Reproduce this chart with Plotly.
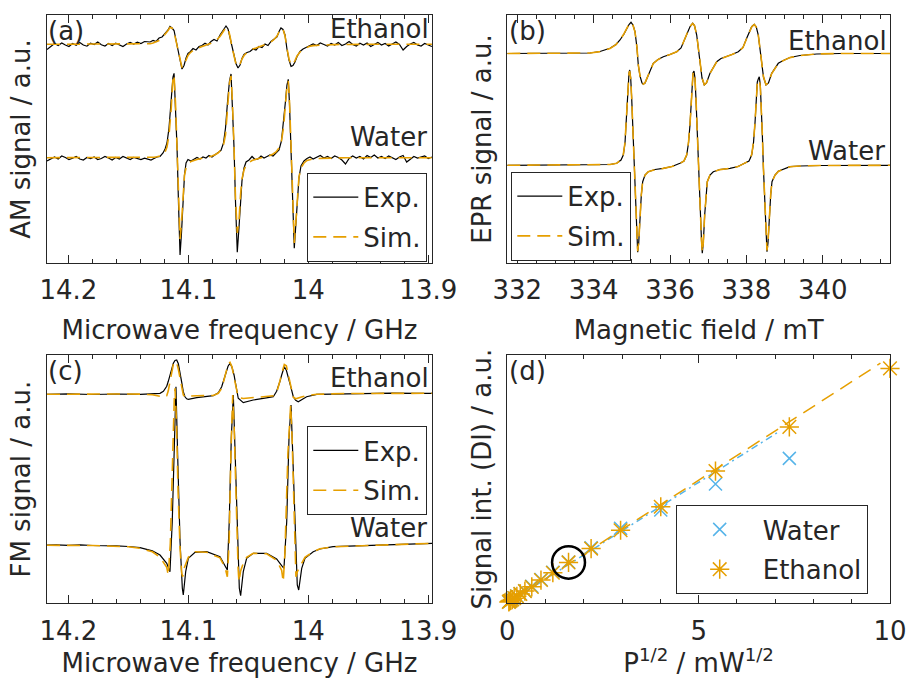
import plotly.graph_objects as go

# ---------------- data ----------------
# Panel (a): AM signal vs microwave frequency (GHz); y in arbitrary units
a_f_left = [14.2178, 14.2145, 14.2115, 14.2085, 14.2055, 14.2025, 14.1995, 14.1965, 14.1935, 14.1905,
            14.1875, 14.1845, 14.1815, 14.1785, 14.1755, 14.1725, 14.1695, 14.1665, 14.1635, 14.1605,
            14.1575, 14.1545, 14.1515, 14.1485, 14.1455, 14.1425, 14.1395, 14.1365]
a_f_right = [13.996, 13.993, 13.990, 13.987, 13.984, 13.981, 13.978, 13.975, 13.972, 13.969,
             13.966, 13.963, 13.960, 13.957, 13.954, 13.951, 13.948, 13.945, 13.942, 13.939,
             13.936, 13.933, 13.930, 13.927, 13.924, 13.921, 13.918, 13.915, 13.912, 13.909,
             13.906, 13.903, 13.900, 13.897]
a_f_eth_mid = [14.1319, 14.1294, 14.1269, 14.1244, 14.1219, 14.1194, 14.1169, 14.1153, 14.1136, 14.1119,
               14.1103, 14.1086, 14.1069, 14.1053, 14.1036, 14.1019, 14.1003, 14.0986, 14.0961, 14.0936,
               14.0911, 14.0886, 14.0861, 14.0836, 14.0811, 14.0786, 14.0761, 14.0736, 14.0711, 14.0686,
               14.0669, 14.0653, 14.0636, 14.0619, 14.0603, 14.0586, 14.0569, 14.0553, 14.0536, 14.0511,
               14.0486, 14.0461, 14.0436, 14.0411, 14.0386, 14.0361, 14.0336, 14.0311, 14.0286, 14.0261,
               14.0244, 14.0228, 14.0211, 14.0194, 14.0178, 14.0161, 14.0144, 14.0128, 14.0111, 14.0094,
               14.0069, 14.0044, 14.0019, 13.9994]
a_exp_eth_left = [213.5, 217.0, 219.5, 217.5, 220.0, 218.0, 216.5, 219.5, 217.8, 220.5, 218.0, 216.8, 219.8, 218.5,
                  221.0, 218.2, 217.0, 219.5, 217.5, 219.8, 218.0, 216.5, 219.0, 220.5, 219.0, 220.8, 219.5, 221.5]
a_exp_eth_mid = [221.0, 222.5, 221.5, 225.0, 226.0, 229.5, 233.0, 236.5, 235.0, 232.5,
                 224.0, 212.0, 203.0, 194.0, 197.5, 205.0, 209.5, 211.0, 214.5, 213.0,
                 216.5, 217.5, 219.8, 218.0, 221.5, 223.5, 222.0, 228.0, 232.0, 237.0,
                 234.0, 226.0, 216.0, 207.0, 199.5, 195.0, 198.0, 204.5, 208.5, 210.5,
                 211.5, 214.0, 213.0, 216.5, 215.5, 219.0, 217.5, 221.5, 224.0, 226.0,
                 231.5, 235.0, 233.5, 228.0, 214.0, 203.0, 196.5, 197.5, 201.0, 206.5,
                 211.5, 214.0, 215.5, 217.0]
a_exp_eth_right = [219.0, 217.5, 220.0, 218.5, 217.0, 219.5, 218.0, 220.5, 217.5, 219.0, 221.5, 218.5, 217.0, 219.8,
                   218.0, 220.0, 216.5, 218.5, 220.5, 218.0, 219.5, 217.0, 219.0, 221.0, 218.5, 213.0, 216.5, 219.0,
                   220.5, 218.0, 217.0, 219.5, 218.0, 216.5]
a_sim_eth_left = [218.7, 218.7, 218.7, 218.7, 218.7, 218.7, 218.7, 218.7, 218.7, 218.7, 218.7, 218.7, 218.7, 218.7,
                  218.7, 218.7, 218.7, 218.7, 218.7, 218.7, 218.7, 218.7, 218.8, 218.9, 218.9, 219.0, 219.1, 219.2]
a_sim_eth_mid = [219.3, 220.0, 221.0, 222.5, 225.0, 228.5, 232.5, 235.5, 235.0, 231.0,
                 222.0, 211.0, 201.5, 195.5, 198.0, 203.5, 207.5, 210.0, 212.5, 214.0,
                 215.5, 216.5, 217.5, 218.5, 219.8, 221.5, 223.5, 226.5, 231.0, 235.5,
                 234.5, 227.0, 216.0, 206.0, 199.0, 196.5, 199.0, 204.0, 207.5, 210.5,
                 212.5, 214.0, 215.0, 216.0, 217.0, 218.0, 219.5, 221.0, 223.5, 227.0,
                 231.0, 234.5, 234.0, 227.0, 215.0, 204.0, 198.5, 198.5, 202.5, 207.0,
                 211.0, 213.5, 215.0, 216.5]
a_sim_eth_right = [217.4, 217.7, 217.9, 218.1, 218.2, 218.3, 218.4, 218.5, 218.5, 218.6, 218.6, 218.6, 218.7, 218.7,
                   218.7, 218.7, 218.7, 218.7, 218.7, 218.7, 218.7, 218.7, 218.7, 218.7, 218.7, 218.7, 218.7, 218.7,
                   218.7, 218.7, 218.7, 218.7, 218.7, 218.7]

a_f_wat_mid = [14.1311, 14.1286, 14.1261, 14.1236, 14.1211, 14.1194, 14.1178, 14.1161, 14.1144, 14.1128,
               14.1119, 14.1107, 14.1094, 14.1082, 14.1069, 14.1057, 14.1044, 14.1032, 14.1019, 14.1003,
               14.0978, 14.0953, 14.0928, 14.0903, 14.0878, 14.0853, 14.0828, 14.0803, 14.0778, 14.0753,
               14.0728, 14.0707, 14.0690, 14.0674, 14.0657, 14.0644, 14.0632, 14.0619, 14.0607, 14.0592,
               14.0578, 14.0565, 14.0553, 14.0536, 14.0519, 14.0494, 14.0469, 14.0444, 14.0419, 14.0394,
               14.0369, 14.0344, 14.0319, 14.0294, 14.0269, 14.0244, 14.0224, 14.0207, 14.0190, 14.0178,
               14.0167, 14.0157, 14.0144, 14.0132, 14.0117, 14.0103, 14.0090, 14.0078, 14.0061, 14.0036,
               14.0011, 13.9986]
a_exp_wat_left = [102.0, 104.5, 106.0, 104.0, 107.0, 105.5, 103.5, 104.8, 106.5, 104.0, 103.0, 105.5, 104.5, 106.0,
                  103.5, 104.5, 106.5, 105.0, 103.0, 105.5, 104.0, 106.5, 105.0, 103.5, 105.5, 104.5, 103.5, 104.8]
a_exp_wat_mid = [103.0, 104.5, 106.0, 106.5, 110.0, 114.0, 120.0, 135.0, 160.0, 186.0,
                 189.7, 160.0, 115.0, 60.0, 8.0, 30.0, 65.0, 88.0, 100.0, 103.5,
                 102.0, 104.0, 105.5, 104.0, 106.0, 105.0, 107.5, 106.0, 108.0, 110.0,
                 112.5, 120.0, 135.0, 160.0, 182.0, 189.0, 160.0, 115.0, 62.0, 10.7,
                 35.0, 62.0, 82.0, 95.0, 101.0, 103.0, 106.5, 103.5, 104.0, 107.0,
                 105.0, 106.5, 108.0, 107.0, 110.0, 113.0, 122.0, 140.0, 162.0, 178.0,
                 183.7, 160.0, 115.0, 62.0, 14.7, 40.0, 68.0, 85.0, 97.0, 102.0,
                 104.5, 106.0]
a_exp_wat_right = [104.0, 106.0, 107.5, 105.0, 106.5, 104.5, 107.0, 105.5, 103.0, 99.0, 104.5, 107.0, 105.0, 106.5,
                   104.0, 107.5, 105.5, 108.0, 105.0, 106.5, 104.5, 107.0, 105.5, 103.5, 106.0, 107.5, 101.0, 104.0,
                   106.5, 105.0, 106.0, 107.0, 104.5, 106.0]
a_sim_wat_left = [105.3, 105.3, 105.3, 105.3, 105.3, 105.3, 105.3, 105.3, 105.3, 105.3, 105.3, 105.3, 105.3, 105.3,
                  105.3, 105.3, 105.3, 105.3, 105.3, 105.3, 105.3, 105.3, 105.3, 105.3, 105.3, 105.4, 105.4, 105.5]
a_sim_wat_mid = [105.5, 105.8, 106.3, 107.0, 109.0, 111.0, 116.0, 128.0, 152.0, 185.0,
                 188.0, 160.0, 115.0, 62.0, 24.0, 40.0, 70.0, 88.0, 95.0, 99.0,
                 101.5, 102.8, 103.5, 104.2, 104.8, 105.3, 106.0, 107.0, 108.3, 110.0,
                 113.0, 118.0, 128.0, 150.0, 180.0, 187.0, 160.0, 115.0, 65.0, 30.0,
                 42.0, 68.0, 84.0, 93.0, 97.5, 100.5, 102.5, 103.5, 104.3, 105.0,
                 105.8, 106.5, 107.5, 109.0, 111.0, 115.0, 122.0, 135.0, 158.0, 176.0,
                 182.0, 162.0, 118.0, 65.0, 20.0, 42.0, 70.0, 86.0, 95.0, 100.0,
                 102.5, 103.5]
a_sim_wat_right = [104.0, 104.4, 104.6, 104.8, 105.0, 105.1, 105.2, 105.2, 105.3, 105.3, 105.3, 105.3, 105.3, 105.3,
                   105.3, 105.3, 105.3, 105.3, 105.3, 105.3, 105.3, 105.3, 105.3, 105.3, 105.3, 105.3, 105.3, 105.3,
                   105.3, 105.3, 105.3, 105.3, 105.3, 105.3]

# Panel (b): EPR signal vs magnetic field (mT)
b_B_eth = [331.738, 332.856, 333.642, 333.904, 334.166, 334.428, 334.585, 334.690, 334.795, 334.873,
           334.926, 334.978, 335.030, 335.083, 335.135, 335.169, 335.214, 335.266, 335.300, 335.345,
           335.431, 335.562, 335.685, 335.824, 335.999, 336.175, 336.288, 336.392, 336.471, 336.523,
           336.594, 336.641, 336.699, 336.746, 336.785, 336.838, 336.898, 336.955, 337.047, 337.223,
           337.335, 337.485, 337.623, 337.788, 337.911, 338.008, 338.082, 338.139, 338.207, 338.260,
           338.312, 338.357, 338.401, 338.448, 338.514, 338.579, 338.663, 338.836, 338.967, 339.142,
           339.404, 339.842, 340.452, 341.762]
b_exp_eth = [209.5, 209.5, 209.6, 210.0, 211.5, 214.7, 218.5, 223.0, 229.0, 235.0,
             238.5, 240.7, 238.0, 231.3, 215.0, 198.0, 187.0, 180.0, 178.7, 180.0,
             188.0, 199.7, 203.5, 206.3, 208.5, 211.3, 215.0, 224.7, 231.0, 236.3,
             239.7, 237.5, 228.0, 213.0, 198.0, 185.0, 178.0, 180.0, 189.7, 201.3,
             204.5, 206.3, 208.5, 211.3, 215.5, 224.7, 231.5, 236.3, 238.7, 236.0,
             228.0, 215.0, 198.0, 186.0, 178.0, 180.0, 189.7, 199.7, 202.5, 205.5,
             207.5, 209.0, 209.5, 209.5]
b_sim_eth = [209.5, 209.5, 209.6, 210.0, 211.4, 214.6, 218.4, 223.2, 229.3, 235.2,
             238.7, 240.5, 237.8, 231.0, 215.3, 198.4, 187.2, 180.2, 178.9, 180.3,
             188.2, 199.5, 203.4, 206.2, 208.4, 211.2, 215.1, 224.5, 231.2, 236.5,
             239.5, 237.3, 228.2, 213.3, 198.2, 185.3, 178.2, 180.2, 189.5, 201.1,
             204.4, 206.2, 208.4, 211.2, 215.4, 224.5, 231.3, 236.1, 238.5, 235.8,
             228.2, 215.2, 198.3, 186.2, 178.3, 180.2, 189.5, 199.5, 202.4, 205.4,
             207.4, 209.0, 209.5, 209.5]
b_B_wat = [331.738, 333.904, 334.428, 334.603, 334.716, 334.776, 334.821, 334.847, 334.873, 334.899,
           334.926, 334.944, 334.970, 334.996, 335.030, 335.057, 335.083, 335.109, 335.135, 335.153,
           335.180, 335.214, 335.248, 335.284, 335.345, 335.431, 335.607, 335.824, 336.052, 336.261,
           336.366, 336.437, 336.484, 336.523, 336.550, 336.576, 336.602, 336.628, 336.654, 336.680,
           336.712, 336.741, 336.772, 336.804, 336.825, 336.845, 336.872, 336.908, 336.942, 336.976,
           337.047, 337.134, 337.309, 337.571, 337.781, 337.964, 338.069, 338.139, 338.186, 338.226,
           338.260, 338.286, 338.312, 338.338, 338.365, 338.391, 338.417, 338.443, 338.469, 338.496,
           338.519, 338.540, 338.566, 338.600, 338.637, 338.671, 338.750, 338.836, 339.142, 339.404,
           339.928, 341.762]
b_exp_wat = [97.7, 97.8, 98.5, 99.7, 103.0, 108.0, 120.0, 138.0, 160.0, 181.3,
             190.0, 193.0, 185.0, 164.7, 130.0, 98.0, 70.0, 41.3, 20.0, 10.7,
             20.0, 48.0, 68.0, 81.3, 88.0, 91.3, 93.5, 94.7, 96.5, 99.7,
             102.0, 108.0, 120.0, 138.0, 160.0, 181.0, 190.0, 192.0, 185.0, 164.0,
             130.0, 98.0, 70.0, 41.0, 22.0, 9.7, 20.0, 48.0, 68.0, 81.3,
             88.0, 91.3, 93.5, 94.7, 96.5, 99.7, 102.0, 108.0, 120.0, 140.0,
             165.0, 181.0, 184.0, 186.3, 178.0, 160.0, 130.0, 98.0, 70.0, 41.3,
             22.0, 11.3, 20.0, 48.0, 68.0, 81.3, 88.0, 91.7, 96.3, 97.0,
             97.5, 97.7]
b_sim_wat = [97.7, 97.8, 98.5, 99.7, 103.2, 108.3, 120.5, 138.5, 160.5, 181.0,
             189.5, 192.0, 184.5, 164.5, 130.2, 98.2, 70.3, 41.8, 20.8, 11.8,
             20.8, 48.3, 68.2, 81.2, 87.9, 91.2, 93.4, 94.6, 96.4, 99.6,
             102.1, 108.2, 120.3, 138.3, 160.2, 180.5, 189.2, 191.2, 184.6, 164.2,
             130.2, 98.3, 70.3, 41.5, 22.5, 10.8, 20.6, 48.2, 68.2, 81.2,
             87.9, 91.2, 93.4, 94.6, 96.4, 99.6, 102.1, 108.4, 120.5, 140.2,
             164.5, 179.5, 182.5, 183.0, 176.0, 159.0, 130.0, 98.3, 70.3, 41.8,
             22.8, 12.5, 20.8, 48.2, 68.1, 81.2, 87.9, 91.6, 96.2, 97.0,
             97.5, 97.7]

# Panel (c): FM signal vs microwave frequency (GHz)
c_f_eth = [14.2178, 14.2000, 14.1800, 14.1600, 14.1400, 14.1300, 14.1236, 14.1208, 14.1180, 14.1167,
           14.1153, 14.1139, 14.1125, 14.1111, 14.1097, 14.1083, 14.1069, 14.1055, 14.1042, 14.1028,
           14.1014, 14.1000, 14.0930, 14.0792, 14.0750, 14.0722, 14.0700, 14.0686, 14.0669, 14.0653,
           14.0636, 14.0619, 14.0600, 14.0584, 14.0542, 14.0459, 14.0350, 14.0292, 14.0264, 14.0250,
           14.0236, 14.0222, 14.0211, 14.0200, 14.0183, 14.0167, 14.0147, 14.0125, 14.0105, 14.0084,
           14.0050, 14.0014, 13.9930, 13.9700, 13.9500, 13.9300, 13.9100, 13.8969]
c_exp_eth = [209.0, 209.5, 208.8, 209.3, 209.0, 209.6, 210.0, 212.0, 217.0, 222.0,
             228.3, 235.0, 240.0, 242.8, 243.3, 239.5, 231.6, 221.0, 211.6, 206.5,
             204.5, 204.0, 205.6, 207.6, 210.5, 216.6, 225.0, 231.6, 237.0, 240.0,
             236.0, 228.3, 216.0, 205.0, 200.6, 203.3, 205.5, 206.6, 212.0, 216.6,
             222.0, 228.3, 233.0, 236.6, 233.0, 226.6, 217.0, 206.6, 203.0, 201.6,
             204.0, 206.6, 209.0, 209.5, 209.8, 210.2, 209.9, 210.0]
c_sim_eth = [209.0, 209.3, 209.2, 209.3, 209.2, 208.5, 207.0, 205.8, 207.5, 212.5,
             221.5, 231.5, 239.0, 242.0, 240.5, 234.0, 224.5, 214.5, 208.5, 206.5,
             206.8, 207.2, 207.6, 207.8, 210.0, 215.0, 224.5, 232.5, 239.0, 241.0,
             236.5, 226.0, 213.0, 206.0, 204.8, 205.5, 206.5, 207.5, 210.5, 215.5,
             222.5, 229.5, 235.0, 238.8, 237.5, 229.0, 216.0, 206.0, 204.5, 205.0,
             206.5, 207.8, 209.0, 209.8, 210.0, 210.0, 210.0, 210.0]
c_f_wat_exp = [14.2178, 14.2100, 14.2000, 14.1900, 14.1800, 14.1700, 14.1600, 14.1500, 14.1403, 14.1300,
               14.1236, 14.1180, 14.1153, 14.1134, 14.1117, 14.1103, 14.1089, 14.1069, 14.1050, 14.1042,
               14.1022, 14.1000, 14.0944, 14.0847, 14.0736, 14.0694, 14.0675, 14.0659, 14.0642, 14.0625,
               14.0609, 14.0592, 14.0575, 14.0564, 14.0542, 14.0514, 14.0459, 14.0347, 14.0264, 14.0222,
               14.0203, 14.0180, 14.0161, 14.0144, 14.0125, 14.0109, 14.0092, 14.0080, 14.0055, 14.0028,
               13.9959, 13.9903, 13.9794, 13.9600, 13.9400, 13.9200, 13.8969]
c_exp_wat = [58.3, 58.5, 58.0, 58.4, 57.8, 57.9, 57.5, 56.8, 55.6, 52.5,
             48.3, 40.0, 31.6, 81.6, 165.0, 216.6, 148.3, 61.6, 15.0, 8.3,
             31.6, 45.0, 51.0, 51.6, 46.6, 38.3, 33.3, 81.6, 165.0, 208.3,
             148.3, 61.6, 15.0, 7.6, 31.6, 45.0, 50.0, 50.0, 44.3, 37.6,
             35.0, 81.6, 165.0, 198.3, 131.6, 61.6, 18.3, 13.3, 35.0, 45.0,
             51.6, 54.3, 56.6, 57.5, 58.5, 59.3, 60.0]
c_f_wat_sim = [14.2178, 14.1800, 14.1500, 14.1403, 14.1300, 14.1236, 14.1180, 14.1167, 14.1150, 14.1132,
               14.1117, 14.1111, 14.1100, 14.1085, 14.1069, 14.1055, 14.1047, 14.1035, 14.1022, 14.1000,
               14.0944, 14.0847, 14.0736, 14.0694, 14.0675, 14.0660, 14.0645, 14.0630, 14.0618, 14.0600,
               14.0585, 14.0578, 14.0565, 14.0542, 14.0514, 14.0459, 14.0347, 14.0264, 14.0222, 14.0209,
               14.0195, 14.0170, 14.0147, 14.0135, 14.0118, 14.0103, 14.0090, 14.0055, 14.0028, 13.9959,
               13.9903, 13.9794, 13.9400, 13.8969]
c_sim_wat = [58.0, 57.8, 56.5, 55.0, 51.5, 46.0, 36.0, 28.0, 60.0, 150.0,
             205.0, 214.9, 185.0, 110.0, 55.0, 30.0, 26.6, 35.0, 40.0, 46.0,
             51.5, 51.0, 45.5, 36.0, 26.6, 60.0, 150.0, 208.3, 175.0, 90.0,
             35.0, 21.6, 32.0, 40.0, 46.0, 50.0, 49.5, 43.0, 33.0, 21.6,
             50.0, 150.0, 198.3, 165.0, 85.0, 26.6, 32.0, 40.0, 46.0, 51.5,
             54.5, 56.5, 58.5, 60.0]

# Panel (d): double-integrated signal vs sqrt(P)
d_sqrtP_eth = [10.0, 7.37, 5.44, 4.01, 2.96, 2.19, 1.60, 1.19, 0.88, 0.64, 0.46, 0.34, 0.25, 0.18, 0.13, 0.09, 0.06, 0.04]
d_DI_eth = [1.000, 0.751, 0.563, 0.411, 0.311, 0.233, 0.174, 0.130, 0.099, 0.070, 0.052, 0.040, 0.030, 0.022, 0.016, 0.012, 0.009, 0.006]
d_sqrtP_wat = [7.37, 5.44, 4.01, 2.96, 2.19, 1.60, 1.19, 0.88, 0.64, 0.46, 0.34, 0.25, 0.18, 0.13, 0.09, 0.06, 0.04]
d_DI_wat = [0.617, 0.508, 0.397, 0.319, 0.236, 0.176, 0.132, 0.101, 0.072, 0.053, 0.041, 0.031, 0.023, 0.017, 0.012, 0.009, 0.006]
d_fit_eth_x = [0.0, 9.75]
d_fit_eth_y = [0.0, 1.022]
d_fit_wat_x = [0.0, 7.1]
d_fit_wat_y = [0.0, 0.731]
highlight_index = 6          # point circled in panel (d)
highlight_radius = (0.43, 0.069)

# ---------------- style ----------------
W, H = 906, 678
TXT = '#262626'
ORANGE = '#E69F00'
BLUE = '#56B4E9'
FONT = 'DejaVu Sans'
FS = 26
SIM_DASH = '13px,7px'

def px_x(p):
    return p / W

def px_y(p):
    return (H - p) / H

dom_left = [px_x(47), px_x(432)]
dom_right = [px_x(507.3), px_x(890)]
dom_top = [px_y(263), px_y(15)]
dom_bot = [px_y(603.3), px_y(355)]

fig = go.Figure()

def exp_line():
    return dict(color='black', width=1.2)

def sim_line():
    return dict(color=ORANGE, width=1.6, dash=SIM_DASH)

# (a)
fig.add_trace(go.Scatter(x=a_f_left + a_f_eth_mid + a_f_right, y=a_exp_eth_left + a_exp_eth_mid + a_exp_eth_right,
                         mode='lines', line=exp_line(), showlegend=False, xaxis='x', yaxis='y'))
fig.add_trace(go.Scatter(x=a_f_left + a_f_wat_mid + a_f_right, y=a_exp_wat_left + a_exp_wat_mid + a_exp_wat_right,
                         mode='lines', line=exp_line(), name='Exp.', legend='legend', legendgroup='ae', xaxis='x', yaxis='y'))
fig.add_trace(go.Scatter(x=a_f_left + a_f_eth_mid + a_f_right, y=a_sim_eth_left + a_sim_eth_mid + a_sim_eth_right,
                         mode='lines', line=sim_line(), showlegend=False, xaxis='x', yaxis='y'))
fig.add_trace(go.Scatter(x=a_f_left + a_f_wat_mid + a_f_right, y=a_sim_wat_left + a_sim_wat_mid + a_sim_wat_right,
                         mode='lines', line=sim_line(), name='Sim.', legend='legend', legendgroup='as', xaxis='x', yaxis='y'))
# (b)
fig.add_trace(go.Scatter(x=b_B_eth, y=b_exp_eth, mode='lines', line=exp_line(), showlegend=False, xaxis='x2', yaxis='y2'))
fig.add_trace(go.Scatter(x=b_B_wat, y=b_exp_wat, mode='lines', line=exp_line(), name='Exp.', legend='legend2', legendgroup='be', xaxis='x2', yaxis='y2'))
fig.add_trace(go.Scatter(x=b_B_eth, y=b_sim_eth, mode='lines', line=sim_line(), showlegend=False, xaxis='x2', yaxis='y2'))
fig.add_trace(go.Scatter(x=b_B_wat, y=b_sim_wat, mode='lines', line=sim_line(), name='Sim.', legend='legend2', legendgroup='bs', xaxis='x2', yaxis='y2'))
# (c)
fig.add_trace(go.Scatter(x=c_f_eth, y=c_exp_eth, mode='lines', line=exp_line(), showlegend=False, xaxis='x3', yaxis='y3'))
fig.add_trace(go.Scatter(x=c_f_wat_exp, y=c_exp_wat, mode='lines', line=exp_line(), name='Exp.', legend='legend3', legendgroup='ce', xaxis='x3', yaxis='y3'))
fig.add_trace(go.Scatter(x=c_f_eth, y=c_sim_eth, mode='lines', line=sim_line(), showlegend=False, xaxis='x3', yaxis='y3'))
fig.add_trace(go.Scatter(x=c_f_wat_sim, y=c_sim_wat, mode='lines', line=sim_line(), name='Sim.', legend='legend3', legendgroup='cs', xaxis='x3', yaxis='y3'))
# (d)
fig.add_trace(go.Scatter(x=d_fit_wat_x, y=d_fit_wat_y, mode='lines', line=dict(color=BLUE, width=1.5, dash='7px,4px,2px,4px'),
                         showlegend=False, xaxis='x4', yaxis='y4'))
fig.add_trace(go.Scatter(x=d_fit_eth_x, y=d_fit_eth_y, mode='lines', line=dict(color=ORANGE, width=1.5, dash='14px,8px'),
                         showlegend=False, xaxis='x4', yaxis='y4'))
fig.add_trace(go.Scatter(x=d_sqrtP_wat, y=d_DI_wat, mode='markers', name='Water', legend='legend4', legendgroup='dw',
                         marker=dict(symbol='x-thin', size=13, color=BLUE, line=dict(width=1.5, color=BLUE)),
                         cliponaxis=False, xaxis='x4', yaxis='y4'))
fig.add_trace(go.Scatter(x=d_sqrtP_eth, y=d_DI_eth, mode='markers', name='Ethanol', legend='legend4', legendgroup='de',
                         marker=dict(symbol='asterisk', size=16, color=ORANGE, line=dict(width=1.5, color=ORANGE)),
                         cliponaxis=False, xaxis='x4', yaxis='y4'))

def xaxis(domain, anchor, rng, dtick, minor, title, standoff, tick0=0):
    return dict(domain=domain, anchor=anchor, range=rng, dtick=dtick, tick0=tick0, automargin=False,
                showline=True, linecolor=TXT, linewidth=1, mirror='ticks',
                ticks='inside', ticklen=8, tickwidth=1, tickcolor=TXT, ticklabelstandoff=4,
                ticklabeloverflow='allow',
                minor=dict(ticks='inside', ticklen=4, tickwidth=1, tickcolor=TXT, dtick=minor, showgrid=False),
                showgrid=False, zeroline=False, tickfont=dict(size=FS, color=TXT, family=FONT),
                title=dict(text=title, standoff=standoff, font=dict(size=FS, color=TXT, family=FONT)))

def yaxis(domain, anchor, rng, title, standoff):
    return dict(domain=domain, anchor=anchor, range=rng, showline=True, linecolor=TXT, linewidth=1, mirror=True,
                ticks='', showticklabels=False, showgrid=False, zeroline=False, automargin=False,
                title=dict(text=title, standoff=standoff, font=dict(size=FS, color=TXT, family=FONT)))

def legend(xp, yp, iw=45):
    return dict(x=px_x(xp), y=px_y(yp), xanchor='left', yanchor='top', bgcolor='white',
                bordercolor=TXT, borderwidth=1, font=dict(size=FS, color=TXT, family=FONT),
                tracegroupgap=3, itemwidth=iw, traceorder='grouped')

fig.update_layout(
    width=W, height=H, margin=dict(l=0, r=0, t=0, b=0, autoexpand=False),
    paper_bgcolor='white', plot_bgcolor='white',
    font=dict(family=FONT, size=FS, color=TXT),
    xaxis=xaxis(dom_left, 'y', [14.2178, 13.8969], 0.1, 0.02, 'Microwave frequency / GHz', 16),
    yaxis=yaxis(dom_top, 'x', [0, 248], 'AM signal / a.u.', 7),
    xaxis2=xaxis(dom_right, 'y2', [331.738, 341.762], 2, 0.5, 'Magnetic field / mT', 16),
    yaxis2=yaxis(dom_top, 'x2', [0, 248], 'EPR signal / a.u.', 7),
    xaxis3=xaxis(dom_left, 'y3', [14.2178, 13.8969], 0.1, 0.02, 'Microwave frequency / GHz', 10),
    yaxis3=yaxis(dom_bot, 'x3', [0, 248.3], 'FM signal / a.u.', 7),
    xaxis4=xaxis(dom_right, 'y4', [0, 10], 5, 1, 'P<sup>1/2</sup> / mW<sup>1/2</sup>', 14),
    yaxis4=yaxis(dom_bot, 'x4', [0, 1.057], 'Signal int. (DI) / a.u.', 7),
    legend=legend(307.3, 172.7),
    legend2=legend(511.3, 171.7),
    legend3=legend(307.3, 426),
    legend4=legend(675.7, 505, 76),
)

# panel labels and series labels
labels = [
    ('(a)', 46, 31, 'left'), ('(b)', 507, 31, 'left'), ('(c)', 46, 371, 'left'), ('(d)', 507, 371, 'left'),
    ('Ethanol', 431, 29, 'right'), ('Water', 429, 137, 'right'),
    ('Ethanol', 889, 41, 'right'), ('Water', 887, 151, 'right'),
    ('Ethanol', 431, 377.5, 'right'), ('Water', 429, 527.5, 'right'),
]
for txt, xp, yp, anc in labels:
    fig.add_annotation(text=txt, x=px_x(xp), y=px_y(yp), xref='paper', yref='paper', xanchor=anc, yanchor='middle',
                       showarrow=False, font=dict(size=FS, color=TXT, family=FONT))

# circle highlighting one measurement in (d)
cx, cy = d_sqrtP_eth[highlight_index], d_DI_eth[highlight_index]
fig.add_shape(type='circle', xref='x4', yref='y4', x0=cx - highlight_radius[0], x1=cx + highlight_radius[0],
              y0=cy - highlight_radius[1], y1=cy + highlight_radius[1], line=dict(color='black', width=2.5))

fig.write_html('out.html')
